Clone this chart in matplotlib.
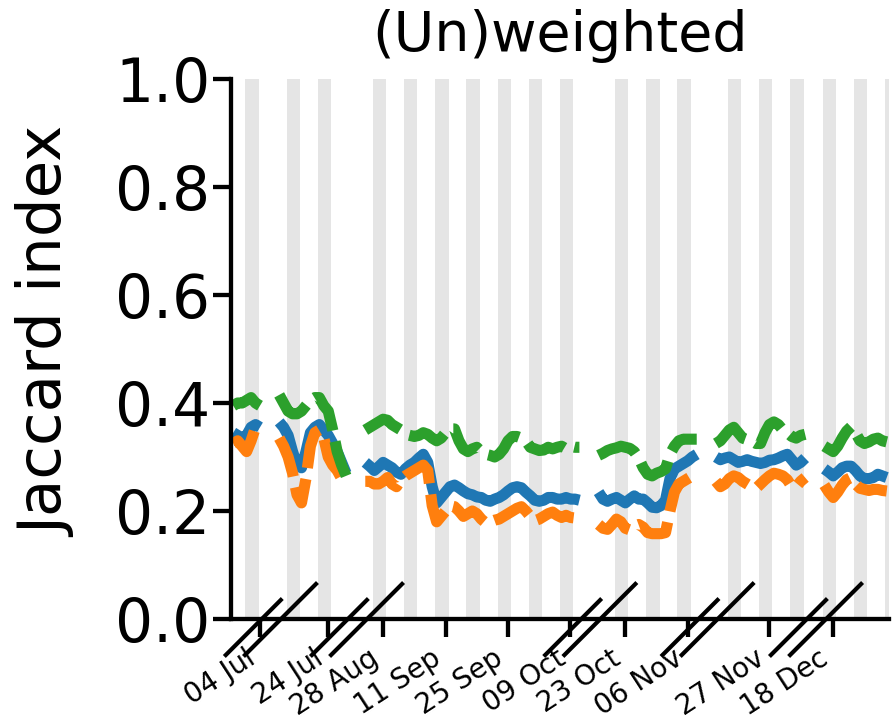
import matplotlib
matplotlib.use("Agg")
import matplotlib.pyplot as plt
import matplotlib.transforms as mtransforms
from matplotlib.lines import Line2D
import pandas as pd

# observation periods (first day, last day)
seg_start = ["2022-06-28", "2022-07-13", "2022-08-24", "2022-10-17", "2022-11-15", "2022-12-16"]
seg_end = ["2022-07-04", "2022-07-28", "2022-10-11", "2022-11-08", "2022-12-05", "2022-12-30"]

# daily Jaccard index, one row per period
blue_vals = [
    [0.345, 0.34, 0.335, 0.34, 0.355, 0.36, 0.355],
    [0.365, 0.355, 0.34, 0.31, 0.285, 0.28, 0.31, 0.345, 0.355, 0.36, 0.35, 0.34, 0.325, 0.31, 0.29, 0.27],
    [0.29, 0.283, 0.275, 0.282, 0.29, 0.285, 0.28, 0.272, 0.268, 0.278, 0.285, 0.29, 0.298, 0.305, 0.29,
     0.245, 0.215, 0.225, 0.235, 0.245, 0.248, 0.243, 0.237, 0.232, 0.23, 0.226, 0.225, 0.22, 0.218, 0.222,
     0.225, 0.23, 0.237, 0.243, 0.245, 0.243, 0.235, 0.228, 0.22, 0.218, 0.22, 0.225, 0.225, 0.222, 0.222,
     0.225, 0.222, 0.222, 0.22],
    [0.235, 0.222, 0.218, 0.222, 0.225, 0.22, 0.215, 0.222, 0.228, 0.222, 0.222, 0.215, 0.207, 0.206, 0.21,
     0.22, 0.26, 0.278, 0.283, 0.288, 0.293, 0.3, 0.305],
    [0.30, 0.295, 0.298, 0.30, 0.295, 0.29, 0.292, 0.295, 0.292, 0.29, 0.288, 0.29, 0.294, 0.295, 0.298,
     0.302, 0.305, 0.295, 0.285, 0.29, 0.298],
    [0.278, 0.272, 0.265, 0.272, 0.28, 0.283, 0.283, 0.275, 0.265, 0.26, 0.26, 0.262, 0.268, 0.265, 0.262],
]
orange_vals = [
    [0.325, 0.33, 0.32, 0.31, 0.33, 0.355, 0.345],
    [0.335, 0.32, 0.30, 0.27, 0.23, 0.215, 0.26, 0.32, 0.345, 0.35, 0.335, 0.30, 0.285, 0.275, 0.26, 0.25],
    [0.255, 0.255, 0.25, 0.25, 0.255, 0.262, 0.25, 0.245, 0.258, 0.265, 0.27, 0.275, 0.28, 0.285, 0.275,
     0.21, 0.18, 0.19, 0.20, 0.21, 0.208, 0.20, 0.19, 0.195, 0.20, 0.195, 0.185, 0.178, 0.18, 0.183,
     0.185, 0.19, 0.195, 0.20, 0.205, 0.208, 0.20, 0.19, 0.182, 0.185, 0.19, 0.195, 0.198, 0.192, 0.188,
     0.192, 0.188, 0.187, 0.187],
    [0.175, 0.168, 0.166, 0.175, 0.185, 0.18, 0.168, 0.165, 0.172, 0.175, 0.17, 0.16, 0.158, 0.158, 0.158,
     0.16, 0.20, 0.235, 0.25, 0.255, 0.26, 0.265, 0.27],
    [0.255, 0.245, 0.25, 0.26, 0.265, 0.262, 0.255, 0.25, 0.245, 0.242, 0.25, 0.258, 0.265, 0.27, 0.268,
     0.265, 0.258, 0.245, 0.245, 0.255, 0.262],
    [0.248, 0.235, 0.225, 0.235, 0.248, 0.258, 0.262, 0.25, 0.242, 0.24, 0.238, 0.24, 0.24, 0.238, 0.237],
]
green_vals = [
    [0.395, 0.40, 0.40, 0.405, 0.41, 0.40, 0.395],
    [0.415, 0.40, 0.385, 0.38, 0.38, 0.385, 0.395, 0.405, 0.41, 0.41, 0.395, 0.385, 0.35, 0.31, 0.285, 0.265],
    [0.35, 0.355, 0.36, 0.365, 0.37, 0.368, 0.36, 0.355, 0.35, 0.342, 0.34, 0.338, 0.34, 0.345, 0.342,
     0.335, 0.33, 0.335, 0.345, 0.352, 0.352, 0.33, 0.315, 0.31, 0.315, 0.318, 0.31, 0.305, 0.303, 0.30,
     0.305, 0.315, 0.33, 0.338, 0.338, 0.335, 0.33, 0.318, 0.315, 0.312, 0.313, 0.318, 0.315, 0.318, 0.32,
     0.315, 0.32, 0.318, 0.318],
    [0.303, 0.307, 0.312, 0.315, 0.317, 0.32, 0.318, 0.316, 0.31, 0.298, 0.28, 0.268, 0.265, 0.27, 0.273,
     0.278, 0.305, 0.32, 0.33, 0.333, 0.333, 0.333, 0.333],
    [0.325, 0.33, 0.34, 0.35, 0.355, 0.345, 0.335, 0.332, 0.33, 0.325, 0.325, 0.345, 0.36, 0.365, 0.36,
     0.35, 0.345, 0.338, 0.335, 0.34, 0.342],
    [0.32, 0.315, 0.31, 0.32, 0.335, 0.348, 0.356, 0.345, 0.33, 0.325, 0.328, 0.333, 0.335, 0.33, 0.328],
]

tick_dates = ["2022-07-04", "2022-07-24", "2022-08-28", "2022-09-11", "2022-09-25",
              "2022-10-09", "2022-10-23", "2022-11-06", "2022-11-27", "2022-12-18"]
tick_labels = ["04 Jul", "24 Jul", "28 Aug", "11 Sep", "25 Sep",
               "09 Oct", "23 Oct", "06 Nov", "27 Nov", "18 Dec"]

GAP = 4.3  # width of a cut between two periods, in days

starts = [pd.Timestamp(s) for s in seg_start]
ends = [pd.Timestamp(e) for e in seg_end]
offsets = []
p = 0.0
for s, e in zip(starts, ends):
    offsets.append(p)
    p += (e - s).days + GAP


def to_x(d):
    d = pd.Timestamp(d)
    for s, e, o in zip(starts, ends, offsets):
        if s <= d <= e:
            return o + (d - s).days
    return None


fig = plt.figure(figsize=(8.92, 7.28), dpi=100)
ax = fig.add_axes([231 / 892, 109 / 728, 658 / 892, 540 / 728])

# weekend shading
for k, (s, e) in enumerate(zip(starts, ends)):
    for d in pd.date_range(s, e):
        if d.weekday() == 4:
            x0 = to_x(d) - 0.33
            ax.axvspan(x0, x0 + 3, color="#e5e5e5", lw=0, zorder=0)

LW = 8
for k, (s, e) in enumerate(zip(starts, ends)):
    xs = [to_x(d) for d in pd.date_range(s, e)]
    ax.plot(xs, blue_vals[k], color="tab:blue", lw=LW, solid_capstyle="butt", zorder=2)
    ax.plot(xs, orange_vals[k], color="tab:orange", lw=LW, ls=(0, (3.7, 1.0)),
            dash_capstyle="butt", zorder=2)
    ax.plot(xs, green_vals[k], color="tab:green", lw=LW, ls=(0, (3.7, 1.0)),
            dash_capstyle="butt", zorder=2)

last = to_x(ends[-1])
ax.set_xlim(-0.5, last + 0.5)
ax.set_ylim(0, 1)
ax.set_yticks([0, 0.2, 0.4, 0.6, 0.8, 1.0])
ax.set_yticklabels(["0.0", "0.2", "0.4", "0.6", "0.8", "1.0"])
ax.set_xticks([to_x(d) for d in tick_dates])
ax.set_xticklabels(tick_labels, rotation=33, ha="right", fontsize=20)

for side in ["top", "right"]:
    ax.spines[side].set_visible(False)
for side in ["left", "bottom"]:
    ax.spines[side].set_linewidth(3.1)
ax.tick_params(axis="both", width=3.1, length=13)
ax.tick_params(axis="y", labelsize=43, pad=2)
ax.tick_params(axis="x", pad=5)

ax.set_ylabel("Jaccard index", fontsize=44)
ax.yaxis.set_label_coords(-0.234, 0.53)
ax.set_title("(Un)weighted", fontsize=40, pad=20)

# axis-break marks
fig.canvas.draw()
y0 = ax.transAxes.transform((0, 0))[1]
for k in range(len(starts) - 1):
    xa = ax.transData.transform((to_x(ends[k]) + 0.4, 0))[0]
    xb = ax.transData.transform((to_x(starts[k + 1]) + 0.4, 0))[0]
    fig.add_artist(Line2D([xa - 36, xa + 19], [y0 - 36, y0 + 19], color="black", lw=3,
                          transform=mtransforms.IdentityTransform(), clip_on=False))
    fig.add_artist(Line2D([xb - 36, xb + 35], [y0 - 36, y0 + 35], color="black", lw=3,
                          transform=mtransforms.IdentityTransform(), clip_on=False))

fig.savefig("out.png", dpi=100)
